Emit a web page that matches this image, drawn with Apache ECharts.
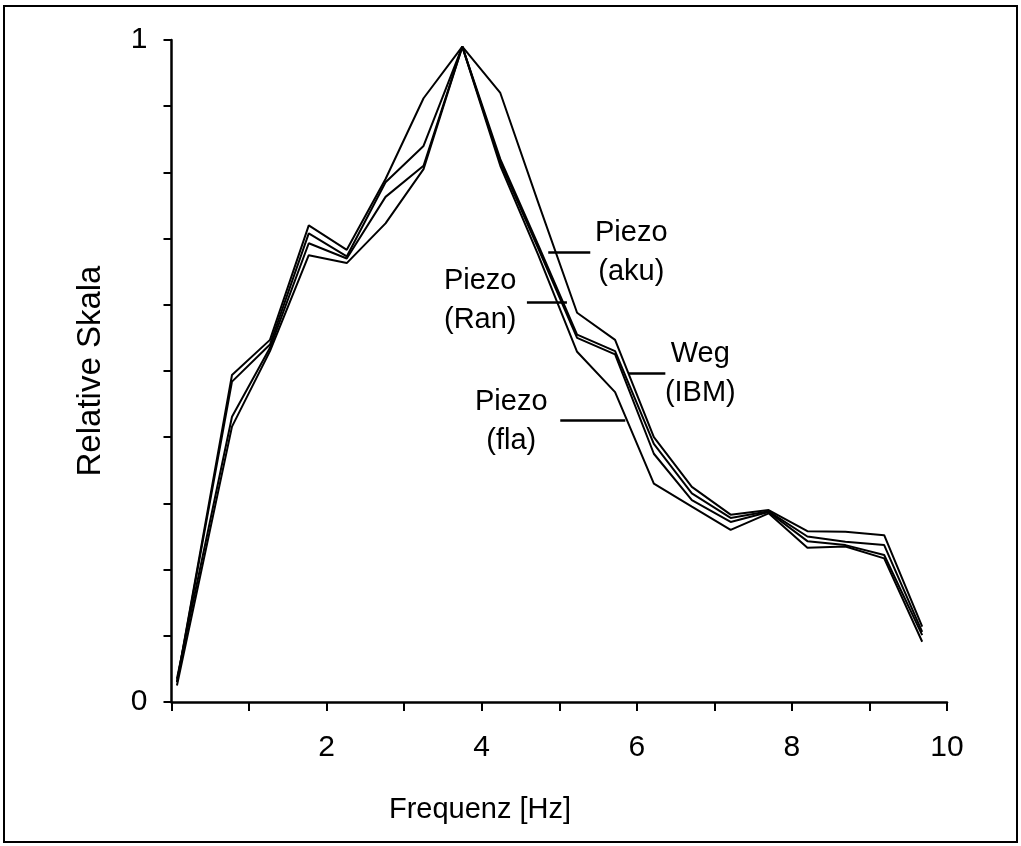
<!DOCTYPE html>
<html><head><meta charset="utf-8">
<script src="https://cdn.jsdelivr.net/npm/echarts@6/dist/echarts.min.js"></script>
<style>html,body{margin:0;padding:0;background:#fff}#c{width:1021px;height:846px}</style>
</head><body><div id="c"></div>
<script>
// ---- data ----
const freq      = [0.07, 0.78, 1.27, 1.77, 2.26, 2.76, 3.25, 3.75, 4.24, 4.73, 5.23, 5.72, 6.22, 6.71, 7.21, 7.70, 8.20, 8.69, 9.19, 9.68];
const piezoAku  = [0.030, 0.494, 0.547, 0.720, 0.683, 0.790, 0.912, 0.990, 0.920, 0.754, 0.588, 0.547, 0.400, 0.325, 0.283, 0.290, 0.258, 0.257, 0.252, 0.114];
const piezoRan  = [0.030, 0.484, 0.540, 0.708, 0.673, 0.785, 0.840, 0.990, 0.820, 0.690, 0.555, 0.530, 0.390, 0.315, 0.278, 0.288, 0.250, 0.242, 0.237, 0.106];
const wegIBM    = [0.035, 0.431, 0.535, 0.693, 0.670, 0.763, 0.810, 0.990, 0.815, 0.685, 0.550, 0.525, 0.375, 0.305, 0.272, 0.287, 0.243, 0.237, 0.222, 0.101];
const piezoFla  = [0.025, 0.416, 0.530, 0.675, 0.663, 0.723, 0.805, 0.990, 0.810, 0.675, 0.529, 0.468, 0.330, 0.295, 0.260, 0.285, 0.233, 0.235, 0.217, 0.091];

const xTickLabels = [2, 4, 6, 8, 10];
const yTickLabels = [0, 1];

const seriesNames  = ['Piezo\n(aku)', 'Piezo\n(Ran)', 'Weg\n(IBM)', 'Piezo\n(fla)'];
const labelAt      = [[5.929, 0.679], [3.981, 0.606], [6.819, 0.496], [4.381, 0.424]];
const connectorX   = [[4.858, 5.40], [4.583, 5.099], [5.894, 6.368], [5.013, 5.852]];
const connectorY   = [0.680, 0.6035, 0.4965, 0.4252];

const FONT = '"Liberation Sans", Arial, Helvetica, sans-serif';

const all = [piezoAku, piezoRan, wegIBM, piezoFla];
const series = all.map((vals, i) => ({
  type: 'line',
  name: seriesNames[i],
  data: freq.map((f, k) => [f, vals[k]]),
  showSymbol: false,
  symbol: 'none',
  smooth: false,
  lineStyle: { color: '#000', width: 2 },
  silent: true,
  z: 3,
  markLine: {
    silent: true, symbol: 'none',
    lineStyle: { color: '#000', width: 2.5, type: 'solid' },
    label: { show: false },
    data: [[{ coord: [connectorX[i][0], connectorY[i]] }, { coord: [connectorX[i][1], connectorY[i]] }]]
  },
  markPoint: {
    silent: true, symbol: 'circle', symbolSize: 0,
    label: {
      show: true, position: 'inside', color: '#000',
      fontFamily: FONT, fontSize: 29, lineHeight: 39,
      align: 'center', verticalAlign: 'middle',
      formatter: () => seriesNames[i]
    },
    data: [{ coord: labelAt[i] }]
  }
}));

const chart = echarts.init(document.getElementById('c'), null, { renderer: 'canvas' });
chart.setOption({
  animation: false,
  backgroundColor: '#fff',
  grid: { left: 171.5, right: 74, top: 40, bottom: 144 },
  xAxis: {
    type: 'value', min: 0, max: 10, interval: 1,
    axisLine: { show: true, lineStyle: { color: '#000', width: 2.5 } },
    axisTick: { show: true, length: 9, lineStyle: { color: '#000', width: 2 } },
    splitLine: { show: false },
    axisLabel: {
      margin: 31, color: '#000', fontFamily: FONT, fontSize: 30,
      formatter: v => xTickLabels.some(t => Math.abs(t - v) < 1e-6) ? String(Math.round(v)) : ''
    }
  },
  yAxis: {
    type: 'value', min: 0, max: 1, interval: 0.1,
    name: 'Relative Skala', nameLocation: 'middle', nameGap: 64, nameRotate: 90,
    nameTextStyle: { color: '#000', fontFamily: FONT, fontSize: 33 },
    axisLine: { show: true, lineStyle: { color: '#000', width: 2.5 } },
    axisTick: { show: true, length: 8, lineStyle: { color: '#000', width: 2 } },
    splitLine: { show: false },
    axisLabel: {
      margin: 24, color: '#000', fontFamily: FONT, fontSize: 30,
      formatter: v => yTickLabels.some(t => Math.abs(t - v) < 1e-6) ? String(Math.round(v)) : ''
    }
  },
  graphic: [
    { type: 'rect', z: 100, silent: true,
      shape: { x: 4, y: 6, width: 1013, height: 836 },
      style: { fill: 'none', stroke: '#000', lineWidth: 2 } },
    { type: 'text', z: 100, silent: true, x: 480, y: 810,
      style: { text: 'Frequenz [Hz]', fill: '#000', font: '29px ' + FONT,
               align: 'center', verticalAlign: 'middle', textAlign: 'center', textVerticalAlign: 'middle' } }
  ],
  series: series
});
</script>
</body></html>
